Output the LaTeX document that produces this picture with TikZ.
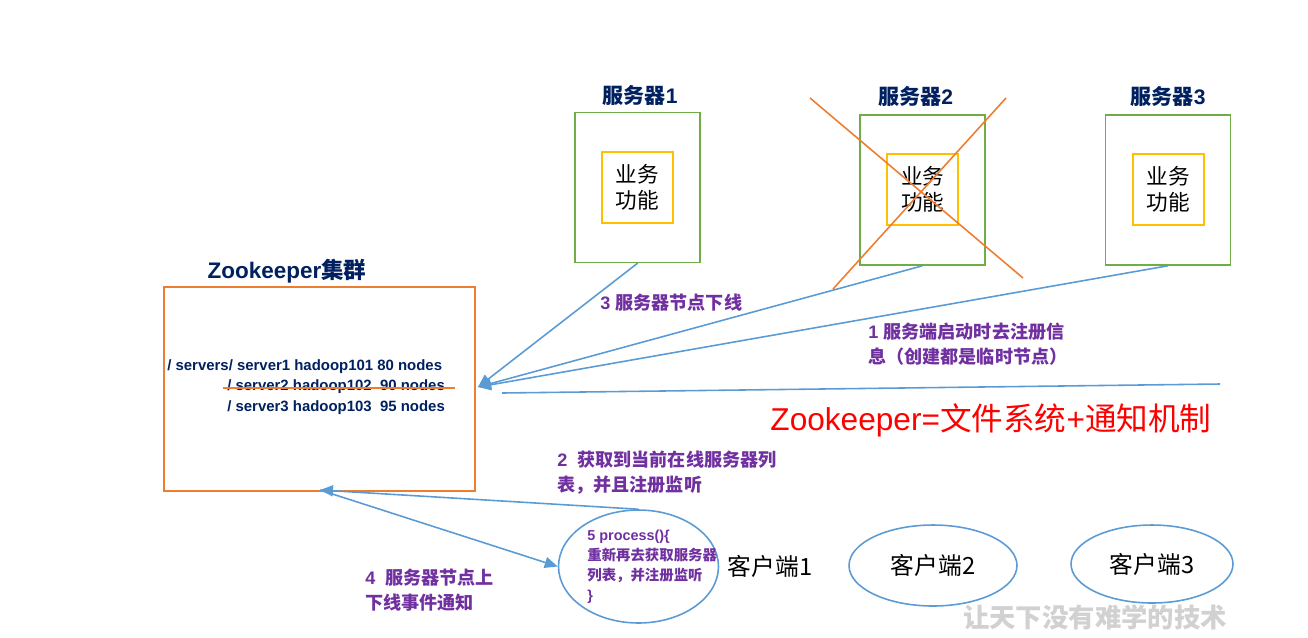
\documentclass[tikz,border=0pt]{standalone}
\usepackage{fontspec}
\setmainfont{Liberation Sans}
\newfontfamily\cjk{Noto Sans CJK SC}
\usetikzlibrary{arrows.meta,shapes.geometric}
\definecolor{zkorange}{RGB}{237,125,49}
\definecolor{srvgreen}{RGB}{112,173,71}
\definecolor{bizyellow}{RGB}{255,192,0}
\definecolor{linkblue}{RGB}{91,155,213}
\definecolor{notepurple}{RGB}{112,48,160}
\definecolor{titlenavy}{RGB}{0,32,96}

\begin{document}
\begin{tikzpicture}[
    x=0.02cm,y=-0.02cm,
    srv/.style={draw=srvgreen,line width=.9pt,minimum width=2.5cm,minimum height=3cm,inner sep=0pt},
    biz/.style={draw=bizyellow,line width=1pt,minimum width=1.42cm,minimum height=1.42cm,inner sep=0pt,
      align=center,font=\cjk\fontsize{12.3}{15}\selectfont},
    ttl/.style={text=titlenavy,font=\bfseries\fontsize{12}{14}\selectfont},
    zline/.style={text=titlenavy,anchor=west,inner sep=0pt,font=\bfseries\fontsize{8.5}{10}\selectfont},
    note/.style={text=notepurple,anchor=west,align=left,inner sep=0pt,font=\bfseries\fontsize{10.3}{14.3}\selectfont},
    cli/.style={ellipse,draw=linkblue,line width=.9pt,inner sep=0pt},
    clitxt/.style={font=\cjk\fontsize{13.5}{16}\selectfont},
    link/.style={-{Triangle[length=2.6mm,width=2.2mm]},line width=.9pt,linkblue},
    plain/.style={line width=.9pt,linkblue},
    cross/.style={line width=.9pt,zkorange}
  ]
    \useasboundingbox (0,0) rectangle (1308,637);
    % servers
    \node[srv] (s1) at (637.7,187.3) {}; \node[biz] (b1) at (637.6,187.5) {业务\\功能};
    \node[srv] (s2) at (922.5,190) {};   \node[biz] (b2) at (922.6,189.6) {业务\\功能};
    \node[srv] (s3) at (1168,190) {};    \node[biz] (b3) at (1168.3,189.6) {业务\\功能};
    \node[ttl] (t1) at (640,95) {{\cjk 服务器}1};
    \node[ttl] (t2) at (915.5,96.5) {{\cjk 服务器}2};
    \node[ttl] (t3) at (1168,96) {{\cjk 服务器}3};
    \draw[cross] (810,98) -- (1023,278);
    \draw[cross] (1006,98) -- (833,289);
    % zookeeper cluster
    \node[draw=zkorange,line width=1pt,minimum width=6.22cm,minimum height=4.08cm,inner sep=0pt] (zk) at (319.5,389) {};
    \node[ttl,font=\bfseries\fontsize{12.8}{14}\selectfont] (zkt) at (287,271) {Zookeeper{\cjk 集群}};
    \node[zline] (ln1) at (167,367) {/ servers/ server1 hadoop101 80 nodes};
    \node[zline] (ln2) at (227,387) {/ server2 hadoop102\ \ 90 nodes};
    \node[zline] (ln3) at (227,408) {/ server3 hadoop103\ \ 95 nodes};
    \draw[cross] (ln2.west) ++(-4,1) -- ++(232,0);
    \coordinate (zkin) at (478,387);
    \coordinate (zkbot) at (320,490);
    \foreach \s in {s1,s2,s3} {\draw[link] (\s.south) -- (zkin);}
    \coordinate (regA) at (502,393); \coordinate (regB) at (1220,384);
    \draw[plain] (regA) -- (regB);
    % clients
    \node[cli,minimum width=3.2cm,minimum height=2.26cm] (c1) at (638.5,566.5) {};
    \node[cli,minimum width=3.36cm,minimum height=1.62cm] (c2) at (933,565.5) {};
    \node[cli,minimum width=3.24cm,minimum height=1.56cm] (c3) at (1152,564) {};
    \node[clitxt] (c1t) at (770,566) {客户端1};
    \node[clitxt] at (c2) {客户端2};
    \node[clitxt] at (c3) {客户端3};
    \node[note,font=\bfseries\fontsize{8.2}{11.3}\selectfont] (proc) at (587,567)
      {5 process()\{\\{\cjk 重新再去获取服务器}\\{\cjk 列表，并注册监听}\\\}};
    \draw[link] (c1.north) -- (zkbot);
    \draw[link] (zkbot) -- (c1.west);
    % notes
    \node[note] (n3) at (600,303) {3 {\cjk 服务器节点下线}};
    \node[note] (n1) at (868,344) {1 {\cjk 服务端启动时去注册信}\\{\cjk 息（创建都是临时节点）}};
    \node[note] (n2) at (557,473) {2\ \ {\cjk 获取到当前在线服务器列}\\{\cjk 表，并且注册监听}};
    \node[note] (n4) at (365,590) {4\ \ {\cjk 服务器节点上}\\{\cjk 下线事件通知}};
    \node[text=red,font=\fontsize{18}{20}\selectfont] (eq) at (991,420) {Zookeeper={\cjk 文件系统}+{\cjk 通知机制}};
    \node[text=black!18,font=\cjk\bfseries\fontsize{15}{17}\selectfont] (wm) at (1095,617) {让天下没有难学的技术};
  \end{tikzpicture}
\end{document}
